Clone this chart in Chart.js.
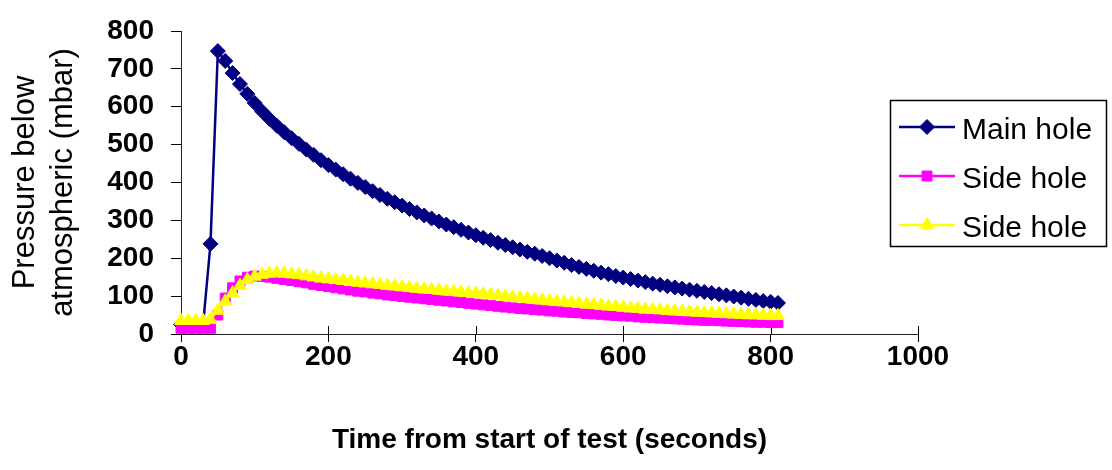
<!DOCTYPE html>
<html>
<head>
<meta charset="utf-8">
<script src="https://cdn.jsdelivr.net/npm/chart.js@4/dist/chart.umd.min.js"></script>
<style>
  body { margin: 0; background: #fff; }
  canvas { display: block; }
</style>
</head>
<body>
<canvas id="pressure-chart" width="1112" height="470"></canvas>
<script>
// time from start of test (s), one reading every 10 s
const times = [0, 10, 20, 30, 40, 50, 60, 70, 80, 90,
  100, 110, 120, 130, 140, 150, 160, 170, 180, 190,
  200, 210, 220, 230, 240, 250, 260, 270, 280, 290,
  300, 310, 320, 330, 340, 350, 360, 370, 380, 390,
  400, 410, 420, 430, 440, 450, 460, 470, 480, 490,
  500, 510, 520, 530, 540, 550, 560, 570, 580, 590,
  600, 610, 620, 630, 640, 650, 660, 670, 680, 690,
  700, 710, 720, 730, 740, 750, 760, 770, 780, 790,
  800, 810];

const mainHole = [25, 25, 25, 25, 238, 747, 721, 689, 660, 634,
  610, 588, 568, 550, 533, 517, 502, 487, 473, 459,
  446, 434, 422, 410, 399, 388, 377, 367, 357, 348,
  339, 330, 321, 313, 305, 297, 289, 282, 275, 268,
  261, 254, 248, 241, 235, 229, 223, 217, 212, 206,
  200, 194, 188, 182, 177, 172, 167, 162, 158, 153,
  149, 145, 141, 137, 133, 130, 126, 123, 120, 117,
  114, 111, 108, 105, 102, 99, 96, 93, 90, 87,
  85, 82];

const sideHoleA = [15, 15, 15, 15, 15, 50, 95, 122, 140, 150,
  153, 152, 150, 147, 144, 141, 138, 135, 131, 128,
  125, 122, 119, 116, 113, 111, 108, 106, 103, 101,
  99, 97, 95, 93, 91, 89, 87, 85, 83, 81,
  79, 77, 75, 73, 71, 69, 67, 66, 64, 63,
  61, 60, 58, 57, 56, 54, 53, 52, 50, 49,
  48, 47, 45, 44, 43, 42, 41, 40, 39, 38,
  37, 36, 36, 35, 34, 33, 33, 32, 31, 31,
  30, 30];

const sideHoleB = [35, 35, 35, 35, 38, 62, 86, 108, 128, 143,
  152, 157, 160, 161, 160, 158, 156, 153, 150, 147,
  145, 143, 141, 138, 136, 134, 132, 130, 128, 126,
  124, 122, 120, 118, 117, 115, 113, 112, 110, 109,
  107, 105, 103, 101, 99, 97, 95, 93, 91, 89,
  87, 85, 84, 82, 80, 78, 77, 75, 73, 72,
  70, 68, 67, 65, 64, 63, 61, 60, 59, 58,
  57, 56, 55, 54, 53, 52, 51, 50, 50, 49,
  48, 48];

const seriesNames = ['Main hole', 'Side hole', 'Side hole'];
const xTicks = [0, 200, 400, 600, 800, 1000];
const yTicks = [0, 100, 200, 300, 400, 500, 600, 700, 800];

const FONT = "'Liberation Sans', Arial, sans-serif";

function toPoints(values) {
  return values.map((v, i) => ({ x: times[i], y: v }));
}

// x ticks in the original cross the axis, so draw the upper half too
const crossTicks = {
  id: 'crossTicks',
  beforeDatasetsDraw(chart) {
    const ctx = chart.ctx;
    const xs = chart.scales.x;
    const bottom = chart.chartArea.bottom;
    ctx.save();
    ctx.strokeStyle = '#000';
    ctx.lineWidth = 1;
    xs.ticks.forEach(t => {
      const px = Math.round(xs.getPixelForValue(t.value)) + 0.5;
      ctx.beginPath();
      ctx.moveTo(px, bottom - 8);
      ctx.lineTo(px, bottom);
      ctx.stroke();
    });
    ctx.restore();
  }
};

// boxed legend at the right, line + marker like the spreadsheet one
const boxLegend = {
  id: 'boxLegend',
  afterDraw(chart) {
    const ctx = chart.ctx;
    ctx.save();
    ctx.strokeStyle = '#000';
    ctx.lineWidth = 1.5;
    ctx.strokeRect(890.5, 100.5, 216, 146);
    chart.data.datasets.forEach((ds, i) => {
      const y = 127 + i * 49;
      ctx.strokeStyle = ds.borderColor;
      ctx.lineWidth = 2.5;
      ctx.beginPath();
      ctx.moveTo(899, y);
      ctx.lineTo(955, y);
      ctx.stroke();
      ctx.fillStyle = ds.pointBackgroundColor;
      ctx.strokeStyle = ds.borderColor;
      ctx.lineWidth = 1;
      Chart.helpers.drawPoint(ctx, {
        pointStyle: ds.pointStyle,
        radius: ds.pointRadius,
        borderWidth: 1,
        rotation: 0
      }, 927, y);
      ctx.fillStyle = '#000';
      ctx.font = '30px ' + FONT;
      ctx.textBaseline = 'middle';
      ctx.textAlign = 'left';
      ctx.fillText(ds.label, 962, y + 4);
    });
    ctx.restore();
  }
};

const ctx = document.getElementById('pressure-chart');

new Chart(ctx, {
  type: 'line',
  data: {
    datasets: [{
      label: seriesNames[0],
      data: toPoints(mainHole),
      borderColor: '#000080',
      backgroundColor: '#000080',
      pointBackgroundColor: '#000080',
      borderWidth: 2.5,
      pointStyle: 'rectRot',
      pointRadius: 7.5,
      pointBorderWidth: 1,
      order: 3,
      clip: false
    }, {
      label: seriesNames[1],
      data: toPoints(sideHoleA),
      borderColor: '#ff00ff',
      backgroundColor: '#ff00ff',
      pointBackgroundColor: '#ff00ff',
      borderWidth: 2,
      pointStyle: 'rect',
      pointRadius: 7,
      pointBorderWidth: 1,
      order: 2,
      clip: false
    }, {
      label: seriesNames[2],
      data: toPoints(sideHoleB),
      borderColor: '#ffff00',
      backgroundColor: '#ffff00',
      pointBackgroundColor: '#ffff00',
      borderWidth: 2,
      pointStyle: 'triangle',
      pointRadius: 7.5,
      pointBorderWidth: 1,
      order: 1,
      clip: false
    }]
  },
  options: {
    responsive: false,
    devicePixelRatio: 1,
    animation: false,
    elements: { line: { tension: 0 } },
    layout: { padding: { top: 19, right: 194, bottom: 0, left: 0 } },
    plugins: {
      legend: { display: false },
      tooltip: { enabled: false }
    },
    scales: {
      x: {
        type: 'linear',
        min: xTicks[0],
        max: xTicks[xTicks.length - 1],
        afterBuildTicks: s => { s.ticks = xTicks.map(v => ({ value: v })); },
        afterFit: s => { s.height = 136; },
        ticks: {
          color: '#000',
          padding: 1,
          maxRotation: 0,
          callback: v => String(v),
          font: { family: FONT, size: 28, weight: 'bold', lineHeight: 1 }
        },
        grid: { drawOnChartArea: false, drawTicks: true, tickLength: 8, color: '#000' },
        border: { color: '#222', width: 1 },
        title: {
          display: true,
          text: 'Time from start of test (seconds)',
          color: '#000',
          font: { family: FONT, size: 28, weight: 'bold', lineHeight: 1.2 },
          padding: { top: 0, bottom: 13 }
        }
      },
      y: {
        min: yTicks[0],
        max: yTicks[yTicks.length - 1],
        afterBuildTicks: s => { s.ticks = yTicks.map(v => ({ value: v })); },
        afterFit: s => { s.width = 181; },
        ticks: {
          color: '#000',
          padding: 17,
          callback: v => String(v),
          font: { family: FONT, size: 28, weight: 'bold', lineHeight: 1 }
        },
        grid: { drawOnChartArea: false, drawTicks: true, tickLength: 10, color: '#000' },
        border: { color: '#222', width: 1 },
        title: {
          display: true,
          text: ['Pressure below', 'atmospheric (mbar)'],
          color: '#000',
          font: { family: FONT, size: 31, weight: 'normal', lineHeight: 1.23 },
          padding: { top: 6, bottom: 0 }
        }
      }
    }
  },
  plugins: [crossTicks, boxLegend]
});
</script>
</body>
</html>
